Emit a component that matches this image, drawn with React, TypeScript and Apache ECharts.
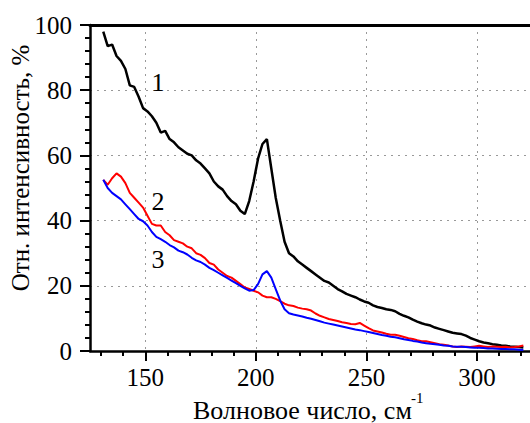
import React, { useEffect, useRef } from "react";
import * as echarts from "echarts";

const waveNumbers = [
  131, 133, 135, 137, 139, 141, 143, 145, 147, 149,
  151, 153, 155, 157, 159, 161, 163, 165, 167, 169,
  171, 173, 175, 177, 179, 181, 183, 185, 187, 189,
  191, 193, 195, 197, 199, 201, 203, 205, 207, 209,
  211, 213, 215, 217, 219, 221, 223, 225, 227, 229,
  231, 233, 235, 237, 239, 241, 243, 245, 247, 249,
  251, 253, 255, 257, 259, 261, 263, 265, 267, 269,
  271, 273, 275, 277, 279, 281, 283, 285, 287, 289,
  291, 293, 295, 297, 299, 301, 303, 305, 307, 309,
  311, 313, 315, 317, 319, 321,
];

const curve1 = [
  98, 93.5, 94, 90.5, 89, 86.5, 81.5, 81, 78, 74.5,
  73.5, 72, 70, 67, 67.5, 65, 64, 62.5, 61.5, 60.5,
  60, 58.5, 57.5, 56, 54.5, 52, 50.5, 49.5, 47.5, 46,
  45, 43, 42, 46, 52, 59, 63.5, 65, 56, 47,
  40, 33.5, 30, 29, 27.5, 26.5, 25.5, 24.5, 23.5, 22.5,
  21.5, 21, 20, 19, 18.3, 17.5, 17, 16.5, 15.8, 15.2,
  14.8, 14, 13.5, 13.2, 12.8, 12.6, 12.2, 11.4, 10.8, 10.3,
  9.6, 9, 8.5, 8.1, 7.8, 7.2, 6.8, 6.4, 6, 5.6,
  5.4, 5.2, 4.7, 4, 3.5, 3, 2.6, 2.4, 2.1, 1.9,
  1.7, 1.6, 1.4, 1.3, 1.2, 1.1,
];

const curve2 = [
  52.5, 51, 53, 54.5, 53.5, 51.5, 48.5, 47, 45.5, 44,
  41.5, 39, 38.5, 38.5, 36.5, 35.5, 34, 33.5, 33, 32,
  31.5, 30, 29.5, 28.5, 27, 26.5, 25, 24, 23, 22.5,
  21.5, 20.5, 19.5, 19, 18.5, 18, 17, 16.5, 16.5, 16,
  15.3, 14.5, 14, 13.8, 13.3, 13, 12.8, 12.4, 11.5, 10.8,
  10.3, 9.8, 9.5, 9.2, 8.8, 8.6, 8.3, 8.2, 8.6, 7.8,
  7, 6.3, 6, 5.7, 5.3, 5, 5, 4.7, 4.3, 3.9,
  3.7, 3.3, 3, 3, 2.7, 2.4, 2.1, 1.9, 1.7, 1.4,
  1.2, 1.4, 1.3, 1.2, 1.4, 1.6, 1.4, 1.2, 1.4, 1.3,
  1.2, 1.3, 1.1, 1.2, 1.4, 1.7,
];

const curve3 = [
  52.5, 50, 48.5, 47.5, 46.5, 45, 43.5, 42, 40.5, 39.8,
  38.5, 36.5, 35, 34.3, 33.5, 32.5, 31.8, 30.8, 30.3, 29.6,
  28.6, 27.8, 27.3, 26.5, 25.5, 24.8, 24, 23.2, 22.4, 21.6,
  20.8, 20, 19.2, 18.5, 18.7, 20.5, 23.5, 24.5, 22.5, 19,
  15.5, 12.8, 11.6, 11.2, 10.9, 10.6, 10.2, 9.9, 9.5, 9.1,
  8.7, 8.4, 8.1, 7.8, 7.5, 7.2, 6.9, 6.6, 6.4, 6.1,
  5.8, 5.5, 5.2, 4.9, 4.7, 4.4, 4.2, 3.9, 3.6, 3.4,
  3.1, 2.9, 2.6, 2.4, 2.2, 2.1, 1.9, 1.7, 1.6, 1.4,
  1.3, 1.3, 1.2, 1.1, 1.0, 1.0, 0.9, 0.8, 0.8, 0.7,
  0.6, 0.6, 0.5, 0.5, 0.4, 0.3,
];

const xMajorTicks = [150, 200, 250, 300];
const xMinorTicks = [130, 140, 150, 160, 170, 180, 190, 200, 210, 220, 230, 240, 250, 260, 270, 280, 290, 300, 310, 320];
const seriesLabels = ["1", "2", "3"];
const seriesColors = ["#000000", "#ff0000", "#0000ff"];

const FONT = "Liberation Serif";

export default function App() {
  const ref = useRef<HTMLDivElement>(null);

  useEffect(() => {
    document.body.style.margin = "0";
    if (!ref.current) return;
    const chart = echarts.init(ref.current, undefined, { renderer: "svg" });

    const curves = [curve1, curve2, curve3];
    const gridLine = { show: true, lineStyle: { color: "#999999", width: 1, type: [2, 5] } };
    const xBase = { type: "value" as const, min: 125, max: 324, gridIndex: 0 };

    const txt = (text: string, x: number, y: number, size: number, align: string, rotation = 0) => ({
      type: "text",
      x,
      y,
      rotation,
      z: 10,
      style: {
        text,
        fontSize: size,
        fontFamily: FONT,
        fill: "#000",
        align,
        verticalAlign: "middle",
      },
    });

    const option: any = {
      animation: false,
      backgroundColor: "#ffffff",
      textStyle: { fontFamily: FONT },
      grid: { left: 90, top: 25, width: 440, height: 326, containLabel: false },
      xAxis: [
        {
          ...xBase,
          position: "bottom",
          axisLine: { show: true, onZero: false, lineStyle: { color: "#000", width: 2.5 } },
          axisTick: { show: true, customValues: xMajorTicks, length: 10, inside: false, lineStyle: { color: "#000", width: 2 } },
          axisLabel: { show: true, customValues: xMajorTicks, fontSize: 25, fontFamily: FONT, color: "#000", margin: 14 },
          splitLine: { show: false },
        },
        {
          ...xBase,
          position: "bottom",
          axisLine: { show: false, onZero: false },
          axisTick: { show: true, customValues: xMinorTicks, length: 5, inside: false, lineStyle: { color: "#000", width: 2 } },
          axisLabel: { show: false },
          splitLine: { show: false },
        },
        {
          ...xBase,
          position: "top",
          axisLine: { show: true, onZero: false, lineStyle: { color: "#000", width: 3 } },
          axisTick: { show: false, customValues: xMajorTicks },
          axisLabel: { show: false, customValues: xMajorTicks },
          splitLine: gridLine,
        },
      ],
      yAxis: {
        type: "value",
        min: 0,
        max: 100,
        interval: 20,
        axisLine: { show: true, onZero: false, lineStyle: { color: "#000", width: 2.5 } },
        axisTick: { show: true, length: 10, inside: false, lineStyle: { color: "#000", width: 2 } },
        minorTick: { show: true, splitNumber: 5, length: 5, lineStyle: { color: "#000", width: 2 } },
        axisLabel: { fontSize: 25, fontFamily: FONT, color: "#000", margin: 18 },
        splitLine: gridLine,
      },
      series: curves.map((c, i) => ({
        type: "line",
        xAxisIndex: 0,
        yAxisIndex: 0,
        showSymbol: false,
        symbol: "none",
        data: waveNumbers.map((x, j) => [x, c[j]]),
        lineStyle: { color: seriesColors[i], width: i === 0 ? 2.5 : 2 },
        itemStyle: { color: seriesColors[i] },
        z: 3 + i,
      })),
      graphic: [
        txt("Отн. интенсивность, %", 20, 168, 25, "center", Math.PI / 2),
        txt("Волновое число, см", 193, 410, 26, "left"),
        txt("-1", 411, 398, 15, "left"),
        txt(seriesLabels[0], 158, 82, 26, "center"),
        txt(seriesLabels[1], 158, 201, 26, "center"),
        txt(seriesLabels[2], 158, 259, 26, "center"),
      ],
    };

    chart.setOption(option);
    return () => chart.dispose();
  }, []);

  return <div ref={ref} style={{ width: 530, height: 423 }} />;
}
